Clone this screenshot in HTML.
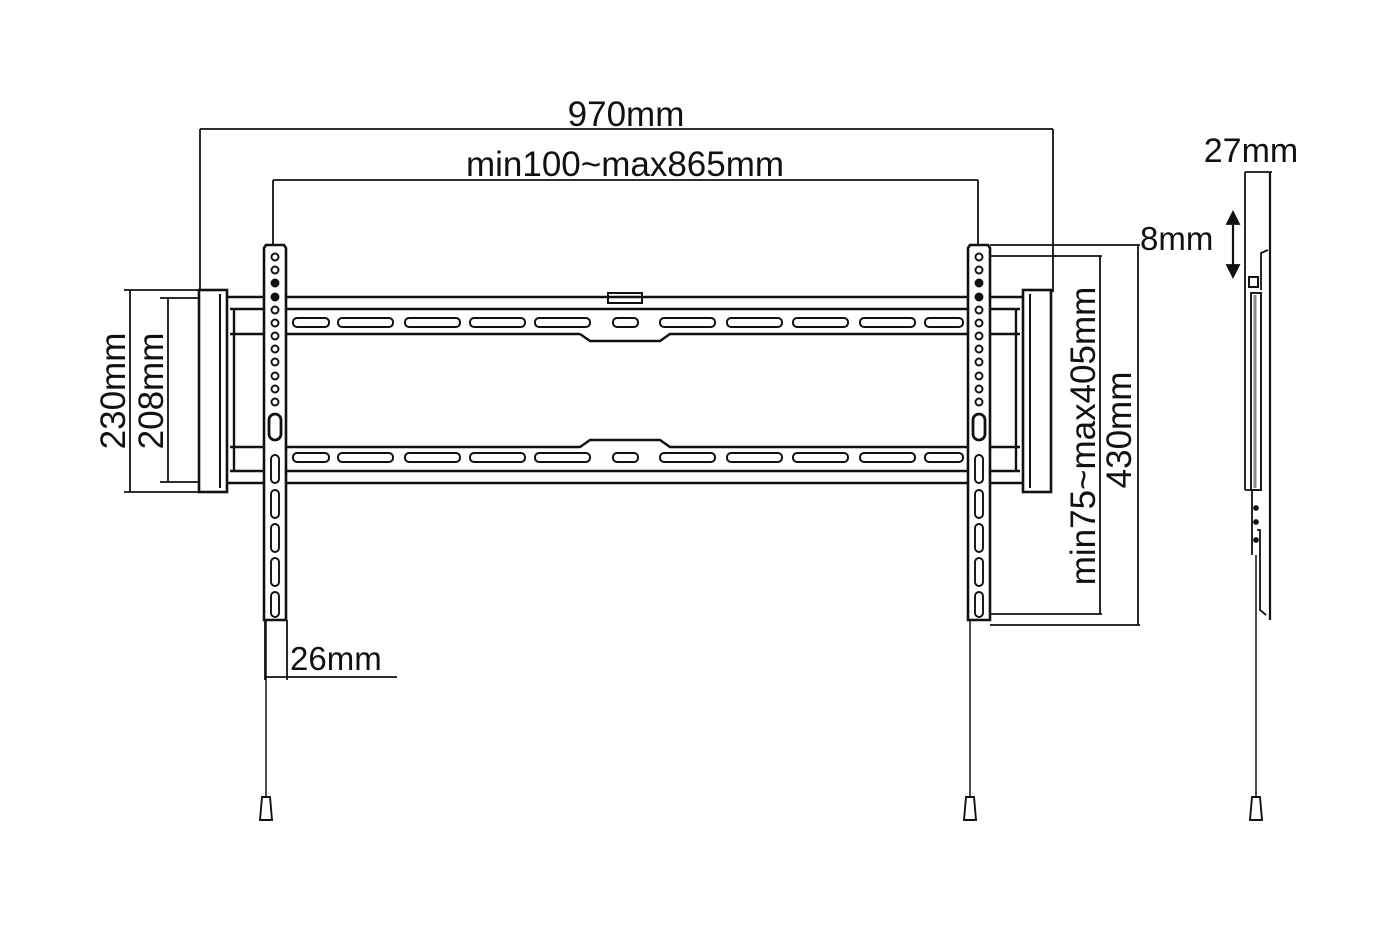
<!DOCTYPE html>
<html><head><style>body{margin:0;background:#fff}svg{display:block}text{font-family:"Liberation Sans",sans-serif;fill:#111}</style></head>
<body>
<svg width="1400" height="933" viewBox="0 0 1400 933" stroke="#111" fill="none" stroke-width="1.8">
<!-- top dims -->
<line x1="200" y1="129" x2="1053" y2="129"/>
<line x1="200" y1="129" x2="200" y2="292"/>
<line x1="1053" y1="129" x2="1053" y2="292"/>
<text x="626" y="126" font-size="35" text-anchor="middle" stroke="none">970mm</text>
<line x1="273" y1="180" x2="978" y2="180"/>
<line x1="273" y1="180" x2="273" y2="246"/>
<line x1="978" y1="180" x2="978" y2="246"/>
<text x="625" y="176" font-size="35" text-anchor="middle" stroke="none">min100~max865mm</text>
<!-- left dims -->
<line x1="124" y1="290" x2="200" y2="290"/>
<line x1="124" y1="492" x2="200" y2="492"/>
<line x1="130" y1="290" x2="130" y2="492"/>
<line x1="160" y1="298" x2="200" y2="298"/>
<line x1="160" y1="482" x2="200" y2="482"/>
<line x1="168" y1="298" x2="168" y2="482"/>
<text transform="translate(125,391) rotate(-90)" font-size="35" text-anchor="middle" stroke="none">230mm</text>
<text transform="translate(163,391) rotate(-90)" font-size="35" text-anchor="middle" stroke="none">208mm</text>
<!-- rails -->
<g stroke-width="2.4">
<line x1="228" y1="297" x2="1022" y2="297"/>
<line x1="230" y1="309" x2="1020" y2="309"/>
<line x1="230" y1="334" x2="580" y2="334"/><path d="M580 334 L590 341 L660 341 L670 334 L1020 334"/>
<path d="M230 447 L580 447 L590 440 L660 440 L670 447 L1020 447"/>
<line x1="230" y1="471" x2="1020" y2="471"/>
<line x1="228" y1="483" x2="1022" y2="483"/>
<line x1="234" y1="309" x2="234" y2="471"/><line x1="1016" y1="309" x2="1016" y2="471"/>
</g>
<rect x="608" y="293" width="34" height="10" stroke-width="2"/>
<g stroke-width="2">
<rect x="293" y="318" width="36" height="9" rx="4"/><rect x="338" y="318" width="55" height="9" rx="4"/><rect x="405" y="318" width="55" height="9" rx="4"/><rect x="470" y="318" width="55" height="9" rx="4"/><rect x="535" y="318" width="55" height="9" rx="4"/><rect x="613" y="318" width="25" height="9" rx="4"/><rect x="660" y="318" width="55" height="9" rx="4"/><rect x="727" y="318" width="55" height="9" rx="4"/><rect x="793" y="318" width="55" height="9" rx="4"/><rect x="860" y="318" width="55" height="9" rx="4"/><rect x="925" y="318" width="38" height="9" rx="4"/>
<rect x="293" y="453" width="36" height="9" rx="4"/><rect x="338" y="453" width="55" height="9" rx="4"/><rect x="405" y="453" width="55" height="9" rx="4"/><rect x="470" y="453" width="55" height="9" rx="4"/><rect x="535" y="453" width="55" height="9" rx="4"/><rect x="613" y="453" width="25" height="9" rx="4"/><rect x="660" y="453" width="55" height="9" rx="4"/><rect x="727" y="453" width="55" height="9" rx="4"/><rect x="793" y="453" width="55" height="9" rx="4"/><rect x="860" y="453" width="55" height="9" rx="4"/><rect x="925" y="453" width="38" height="9" rx="4"/>
</g>
<!-- end caps -->
<g stroke-width="2.6" fill="#fff">
<rect x="199" y="290" width="28" height="202"/><rect x="1023" y="290" width="28" height="202"/>
</g>
<line x1="220" y1="294" x2="220" y2="488" stroke-width="2"/><line x1="1030" y1="294" x2="1030" y2="488" stroke-width="2"/>
<!-- strips -->
<g id="strip">
<path d="M264 248 L266 245 L284 245 L286 248 L286 620 L264 620 Z" fill="#fff" stroke-width="2.6"/>
<g stroke-width="1.9">
<circle cx="275" cy="257" r="3.5"/><circle cx="275" cy="270" r="3.5"/><circle cx="275" cy="283" r="3.5" fill="#111"/><circle cx="275" cy="297" r="3.5" fill="#111"/><circle cx="275" cy="310" r="3.5"/><circle cx="275" cy="323" r="3.5"/><circle cx="275" cy="336" r="3.5"/><circle cx="275" cy="349" r="3.5"/><circle cx="275" cy="362" r="3.5"/><circle cx="275" cy="376" r="3.5"/><circle cx="275" cy="389" r="3.5"/><circle cx="275" cy="402" r="3.5"/>
<rect x="269" y="414" width="12" height="26" rx="6" stroke-width="2.8"/>
<rect x="271" y="455" width="8" height="28" rx="4"/><rect x="271" y="490" width="8" height="28" rx="4"/><rect x="271" y="524" width="8" height="28" rx="4"/><rect x="271" y="558" width="8" height="28" rx="4"/><rect x="271" y="592" width="8" height="25" rx="4"/>
</g>
<line x1="266" y1="620" x2="266" y2="797" stroke-width="1.5"/>
<path d="M262 797 L270 797 L272 820 L260 820 Z" stroke-width="1.9"/>
</g>
<use href="#strip" transform="translate(704,0)"/>
<!-- 26mm -->
<line x1="265" y1="620" x2="265" y2="680"/><line x1="287" y1="620" x2="287" y2="680"/>
<line x1="265" y1="677" x2="397" y2="677"/>
<text x="290" y="670" font-size="33" stroke="none">26mm</text>
<!-- right dims -->
<line x1="990" y1="245" x2="1140" y2="245"/><line x1="990" y1="625" x2="1140" y2="625"/><line x1="1138" y1="245" x2="1138" y2="625"/>
<line x1="990" y1="256" x2="1102" y2="256"/><line x1="990" y1="614" x2="1102" y2="614"/><line x1="1100" y1="256" x2="1100" y2="614"/>
<text transform="translate(1095,436) rotate(-90)" font-size="35" text-anchor="middle" stroke="none">min75~max405mm</text>
<text transform="translate(1131,430) rotate(-90)" font-size="35" text-anchor="middle" stroke="none">430mm</text>
<!-- side view -->
<text x="1251" y="162" font-size="34" text-anchor="middle" stroke="none">27mm</text>
<line x1="1245" y1="172" x2="1272" y2="172"/>
<line x1="1245" y1="172" x2="1245" y2="490"/><line x1="1270" y1="172" x2="1270" y2="620" stroke-width="2.2"/>
<path d="M1268 250 L1261 253 L1261 290" />
<rect x="1249" y="277" width="9" height="10" stroke-width="2"/>
<rect x="1251" y="293" width="10" height="197" stroke-width="1.9"/><line x1="1255" y1="295" x2="1255" y2="488" stroke="#888" stroke-width="3"/>
<line x1="1245" y1="490" x2="1262" y2="490"/>
<path d="M1252 490 L1252 555 M1257 530 L1260 530 L1260 610 L1266 615"/>
<circle cx="1256" cy="508" r="2" fill="#111"/><circle cx="1256" cy="522" r="2" fill="#111"/><circle cx="1256" cy="540" r="2" fill="#111"/>
<line x1="1256" y1="555" x2="1256" y2="797" stroke-width="1.5"/>
<path d="M1252 797 L1260 797 L1262 820 L1250 820 Z" stroke-width="1.9"/>
<text x="1140" y="250" font-size="33" stroke="none">8mm</text>
<line x1="1233" y1="218" x2="1233" y2="270" stroke-width="2.2"/>
<path d="M1227 224 L1233 212 L1239 224 Z M1227 265 L1233 277 L1239 265 Z" fill="#111"/>
</svg>
</body></html>
